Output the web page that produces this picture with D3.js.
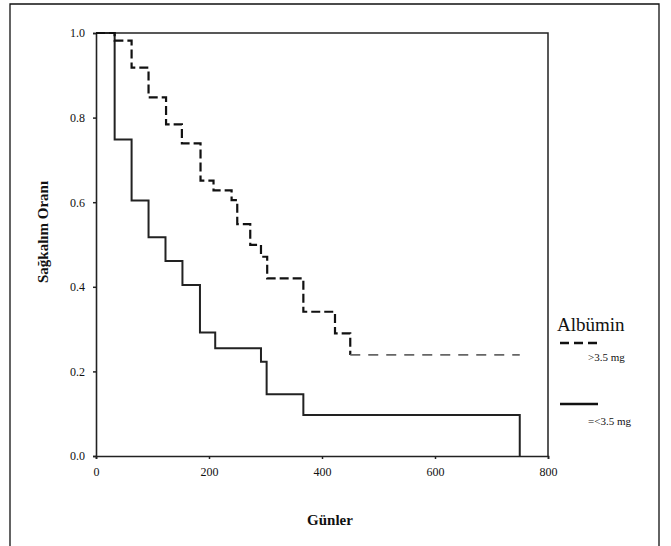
<!DOCTYPE html>
<html>
<head>
<meta charset="utf-8">
<script src="https://cdn.jsdelivr.net/npm/d3@7/dist/d3.min.js"></script>
<style>
  html, body { margin: 0; padding: 0; background: #fff; }
  svg { display: block; }
  text { font-family: "Liberation Serif", "DejaVu Serif", serif; fill: #111; }
</style>
</head>
<body>
<svg id="chart" width="671" height="546"></svg>
<script>
// Kaplan-Meier survival
const daysLow = [0, 33, 63, 93, 123, 153, 184, 211, 292, 302, 367, 750];
const survLow = [1.0, 0.748, 0.604, 0.517, 0.461, 0.404, 0.292, 0.255, 0.223, 0.146, 0.097, 0.0];

const daysHigh = [0, 33, 63, 93, 124, 152, 185, 208, 240, 250, 273, 292, 303, 367, 423, 450, 750];
const survHigh = [1.0, 0.982, 0.918, 0.848, 0.784, 0.739, 0.651, 0.628, 0.605, 0.548, 0.499, 0.471, 0.420, 0.341, 0.290, 0.239, 0.239];

const xTicks = [0, 200, 400, 600, 800];
const yTicks = [0.0, 0.2, 0.4, 0.6, 0.8, 1.0];

const legendTitle = 'Albümin';
const legendLabels = ['>3.5 mg', '=<3.5 mg'];

const svg = d3.select('#chart');

// outer frame (open at the bottom)
svg.append('path')
  .attr('d', 'M10,560 L10,4 L659,4 L659,560')
  .attr('fill', 'none')
  .attr('stroke', '#111')
  .attr('stroke-width', 1.3);

const x = d3.scaleLinear().domain([0, 800]).range([96, 548]);
const y = d3.scaleLinear().domain([0, 1]).range([456, 33]);

// plot box top + right
svg.append('path')
  .attr('d', `M${x(0)},${y(1)} L${x(800)},${y(1)} L${x(800)},${y(0)}`)
  .attr('fill', 'none')
  .attr('stroke', '#222')
  .attr('stroke-width', 1.5);

const xAxis = svg.append('g')
  .attr('transform', `translate(0,${y(0)})`)
  .call(d3.axisBottom(x).tickValues(xTicks).tickSize(3).tickPadding(8).tickFormat(d3.format('d')));

const yAxis = svg.append('g')
  .attr('transform', `translate(${x(0)},0)`)
  .call(d3.axisLeft(y).tickValues(yTicks).tickSize(3).tickPadding(8).tickFormat(d3.format('.1f')));

[xAxis, yAxis].forEach(g => {
  g.select('.domain').attr('stroke', '#222').attr('stroke-width', 1.6);
  g.selectAll('.tick line').attr('stroke', '#222').attr('stroke-width', 1.5);
  g.selectAll('.tick text')
    .style('font-family', '"Liberation Serif", serif')
    .style('font-size', '12px')
    .attr('fill', '#111');
});

// curves
const line = d3.line()
  .x(d => x(d[0]))
  .y(d => y(d[1]))
  .curve(d3.curveStepAfter);

const low = daysLow.map((d, i) => [d, survLow[i]]);
const high = daysHigh.map((d, i) => [d, survHigh[i]]);

const highHead = high.filter(d => d[0] <= 450);
const highTail = high.filter(d => d[0] >= 450);

svg.append('path')
  .attr('d', line(low))
  .attr('fill', 'none')
  .attr('stroke', '#222')
  .attr('stroke-width', 2);

svg.append('path')
  .attr('d', line(highHead))
  .attr('fill', 'none')
  .attr('stroke', '#111')
  .attr('stroke-width', 2.2)
  .attr('stroke-dasharray', '9,4');

svg.append('path')
  .attr('d', line(highTail))
  .attr('fill', 'none')
  .attr('stroke', '#666')
  .attr('stroke-width', 1.6)
  .attr('stroke-dasharray', '10,8');

// axis titles
svg.append('text')
  .attr('transform', 'translate(48,232) rotate(-90)')
  .attr('text-anchor', 'middle')
  .style('font-size', '15px')
  .style('font-weight', 'bold')
  .text('Sağkalım Oranı');

svg.append('text')
  .attr('x', 330)
  .attr('y', 525)
  .attr('text-anchor', 'middle')
  .style('font-size', '15px')
  .style('font-weight', 'bold')
  .text('Günler');

// legend
svg.append('text')
  .attr('x', 557)
  .attr('y', 331)
  .style('font-size', '19px')
  .text(legendTitle);

const legendStyles = [
  { dash: '9,5', y: 343, ty: 361 },
  { dash: null, y: 404, ty: 425 }
];

legendLabels.forEach((lab, i) => {
  const s = legendStyles[i];
  svg.append('line')
    .attr('x1', 560).attr('x2', 598)
    .attr('y1', s.y).attr('y2', s.y)
    .attr('stroke', '#111')
    .attr('stroke-width', 2.5)
    .attr('stroke-dasharray', s.dash);
  svg.append('text')
    .attr('x', 588)
    .attr('y', s.ty)
    .style('font-size', '11px')
    .text(lab);
});
</script>
</body>
</html>
